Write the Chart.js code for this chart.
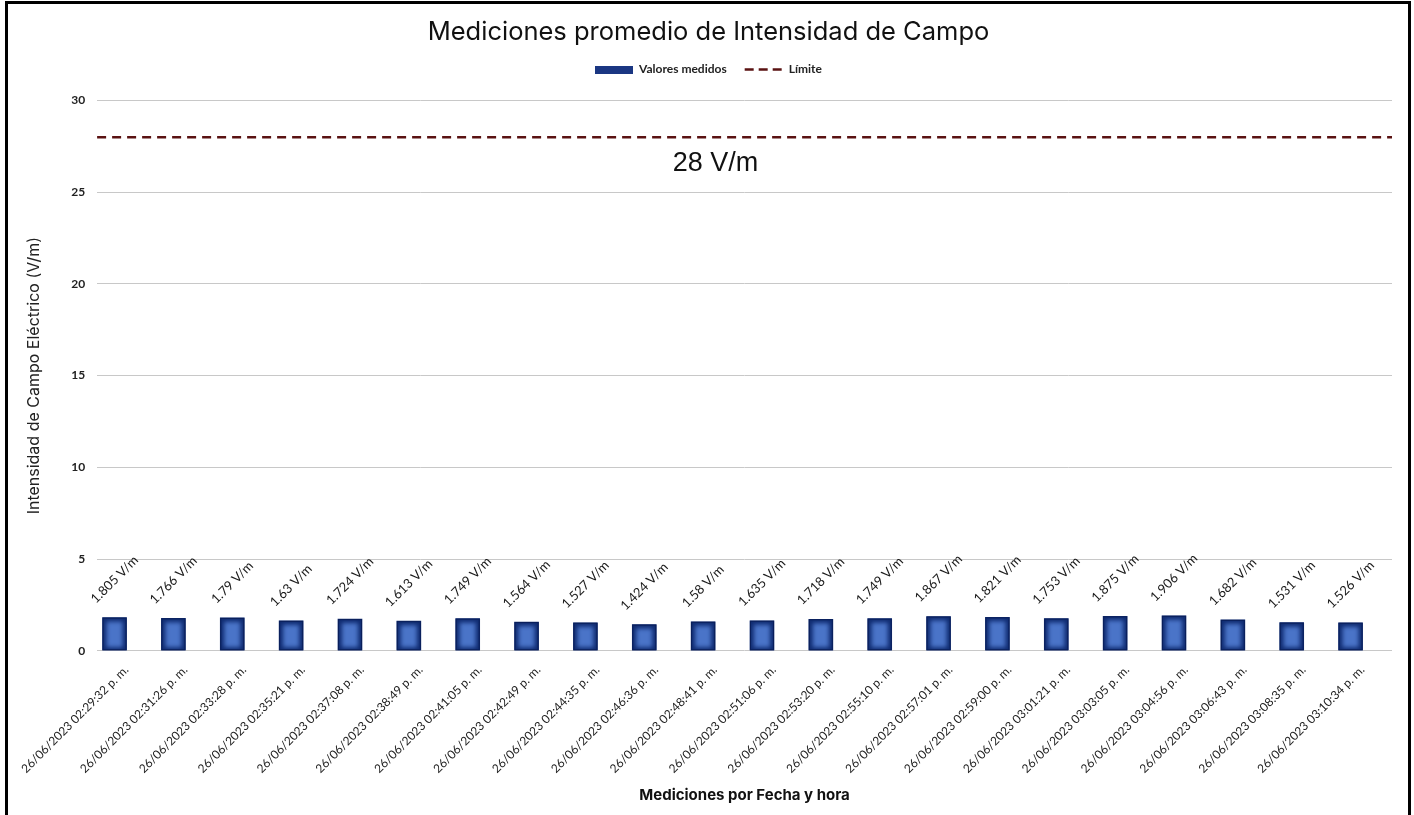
<!DOCTYPE html>
<html>
<head>
<meta charset="utf-8">
<script src="https://cdn.jsdelivr.net/npm/chart.js@4/dist/chart.umd.min.js"></script>
<style>
  html, body { margin: 0; padding: 0; background: #fff; overflow: hidden; }
  #frame { position: absolute; left: 5px; top: 1px; width: 1400px; height: 850px; border: 3px solid #000; }
  #wrap { position: absolute; left: 0; top: 0; width: 1414px; height: 815px; }
</style>
</head>
<body>
<div id="frame"></div>
<div id="wrap"><canvas id="chart"></canvas></div>
<script>
// fechas / horas de medición
var fechas = [
  '26/06/2023 02:29:32 p. m.', '26/06/2023 02:31:26 p. m.', '26/06/2023 02:33:28 p. m.',
  '26/06/2023 02:35:21 p. m.', '26/06/2023 02:37:08 p. m.', '26/06/2023 02:38:49 p. m.',
  '26/06/2023 02:41:05 p. m.', '26/06/2023 02:42:49 p. m.', '26/06/2023 02:44:35 p. m.',
  '26/06/2023 02:46:36 p. m.', '26/06/2023 02:48:41 p. m.', '26/06/2023 02:51:06 p. m.',
  '26/06/2023 02:53:20 p. m.', '26/06/2023 02:55:10 p. m.', '26/06/2023 02:57:01 p. m.',
  '26/06/2023 02:59:00 p. m.', '26/06/2023 03:01:21 p. m.', '26/06/2023 03:03:05 p. m.',
  '26/06/2023 03:04:56 p. m.', '26/06/2023 03:06:43 p. m.', '26/06/2023 03:08:35 p. m.',
  '26/06/2023 03:10:34 p. m.'
];
var valores = [1.805, 1.766, 1.79, 1.63, 1.724, 1.613, 1.749, 1.564, 1.527, 1.424, 1.58,
               1.635, 1.718, 1.749, 1.867, 1.821, 1.753, 1.875, 1.906, 1.682, 1.531, 1.526];
var limite = fechas.map(function(){ return 28; });
var limiteTexto = '28 V/m';
var yTicks = [0, 5, 10, 15, 20, 25, 30];

var NAVY = '#102c72';
var BLUE = '#4a74c8';
var RED  = '#5a1212';

// muestra para la leyenda de barras
var swatch = document.createElement('canvas');
swatch.width = 38; swatch.height = 8;
(function(){ var c = swatch.getContext('2d'); c.fillStyle = '#1a3682'; c.fillRect(0,0,38,8); })();

// relleno degradado de las barras (bordes oscuros, centro claro)
var barShade = {
  id: 'barShade',
  afterDatasetDraw: function(chart, args) {
    if (args.index !== 0) return;
    var ctx = chart.ctx;
    args.meta.data.forEach(function(el) {
      var p = el.getProps(['x','y','base','width'], true);
      var l = p.x - p.width/2, t = p.y, h = p.base - p.y;
      ctx.save();
      ctx.beginPath(); ctx.rect(l, t, p.width, h); ctx.clip();
      ctx.filter = 'blur(2px)';
      ctx.fillStyle = BLUE;
      ctx.fillRect(l + 4, t + 4, p.width - 8, h - 7);
      ctx.restore();
      ctx.save();
      ctx.strokeStyle = '#0a1f5a'; ctx.lineWidth = 1;
      ctx.strokeRect(l + 0.5, t + 0.5, p.width - 1, h - 1);
      ctx.restore();
    });
  }
};

// etiquetas de datos rotadas y texto del límite
var labelsPlugin = {
  id: 'labelsPlugin',
  afterDatasetsDraw: function(chart) {
    var ctx = chart.ctx;
    var meta = chart.getDatasetMeta(0);
    ctx.save();
    ctx.font = '13px Lato';
    ctx.fillStyle = '#1a1a1a';
    ctx.textAlign = 'center';
    ctx.textBaseline = 'middle';
    meta.data.forEach(function(el, i) {
      var txt = valores[i] + ' V/m';
      var w = ctx.measureText(txt).width;
      var half = (w * Math.SQRT1_2 + 13 * Math.SQRT1_2) / 2;
      var cy = el.y - 12 - half;
      ctx.save();
      ctx.translate(el.x, cy);
      ctx.rotate(-Math.PI / 4);
      ctx.fillText(txt, 0, 0);
      ctx.restore();
    });
    var ys = chart.scales.y;
    var area = chart.chartArea;
    ctx.font = '27px "Liberation Sans"';
    ctx.fillStyle = '#111';
    ctx.fillText(limiteTexto, (area.left + area.right) / 2 - 29, ys.getPixelForValue(limite[0]) + 26);
    ctx.restore();
  }
};

new Chart(document.getElementById('chart'), {
  data: {
    labels: fechas,
    datasets: [
      { type: 'bar', label: 'Valores medidos', data: valores, backgroundColor: NAVY,
        borderWidth: 0, barThickness: 24 },
      { type: 'line', label: 'Límite', data: limite, xAxisID: 'x2', borderColor: RED,
        borderWidth: 2.5, borderDash: [9, 6], pointRadius: 0, fill: false }
    ]
  },
  options: {
    responsive: true, maintainAspectRatio: false, animation: false,
    layout: { padding: { left: 25, right: 22, top: 0, bottom: 11 } },
    plugins: {
      title: { display: true, text: 'Mediciones promedio de Intensidad de Campo', color: '#111',
               font: { family: 'Inter', size: 25.5, weight: 'normal', lineHeight: 1 }, padding: { top: 20, bottom: 0 } },
      legend: {
        labels: {
          color: '#222', font: { family: 'Lato', size: 12, weight: 'bold' },
          usePointStyle: true, pointStyleWidth: 38, boxHeight: 8, padding: 18,
          generateLabels: function(chart) {
            var items = Chart.defaults.plugins.legend.labels.generateLabels(chart);
            items.sort(function(a, b){ return a.datasetIndex - b.datasetIndex; });
            items.forEach(function(it) {
              if (it.datasetIndex === 0) { it.pointStyle = swatch; }
              else { it.pointStyle = 'line'; it.lineWidth = 2.5; it.lineDash = [9, 5]; }
            });
            return items;
          }
        }
      },
      tooltip: { enabled: false }
    },
    scales: {
      x: {
        grid: { display: false }, border: { display: false },
        ticks: { color: '#222', font: { family: 'Lato', size: 12 }, minRotation: 45, maxRotation: 45, padding: 4 },
        title: { display: true, text: 'Mediciones por Fecha y hora', color: '#111',
                 font: { family: 'Inter', size: 15, weight: 'bold' }, padding: { top: 6, bottom: 0 } }
      },
      x2: {
        type: 'category', labels: fechas, offset: false, position: 'top',
        grid: { display: false, drawTicks: false }, border: { display: false }, ticks: { display: false },
        afterFit: function(s) { s.height = 15; }
      },
      y: {
        min: 0, max: 30,
        afterBuildTicks: function(s) { s.ticks = yTicks.map(function(v){ return { value: v }; }); },
        grid: { color: '#c8c8c8', lineWidth: 1, drawTicks: false }, border: { display: false },
        ticks: { color: '#222', font: { family: 'Lato', size: 12, weight: 'bold' }, padding: 12 },
        title: { display: true, text: 'Intensidad de Campo Eléctrico (V/m)', color: '#222',
                 font: { family: 'Inter', size: 16 }, padding: { top: 0, bottom: 15 } }
      }
    }
  },
  plugins: [barShade, labelsPlugin]
});
</script>
</body>
</html>
